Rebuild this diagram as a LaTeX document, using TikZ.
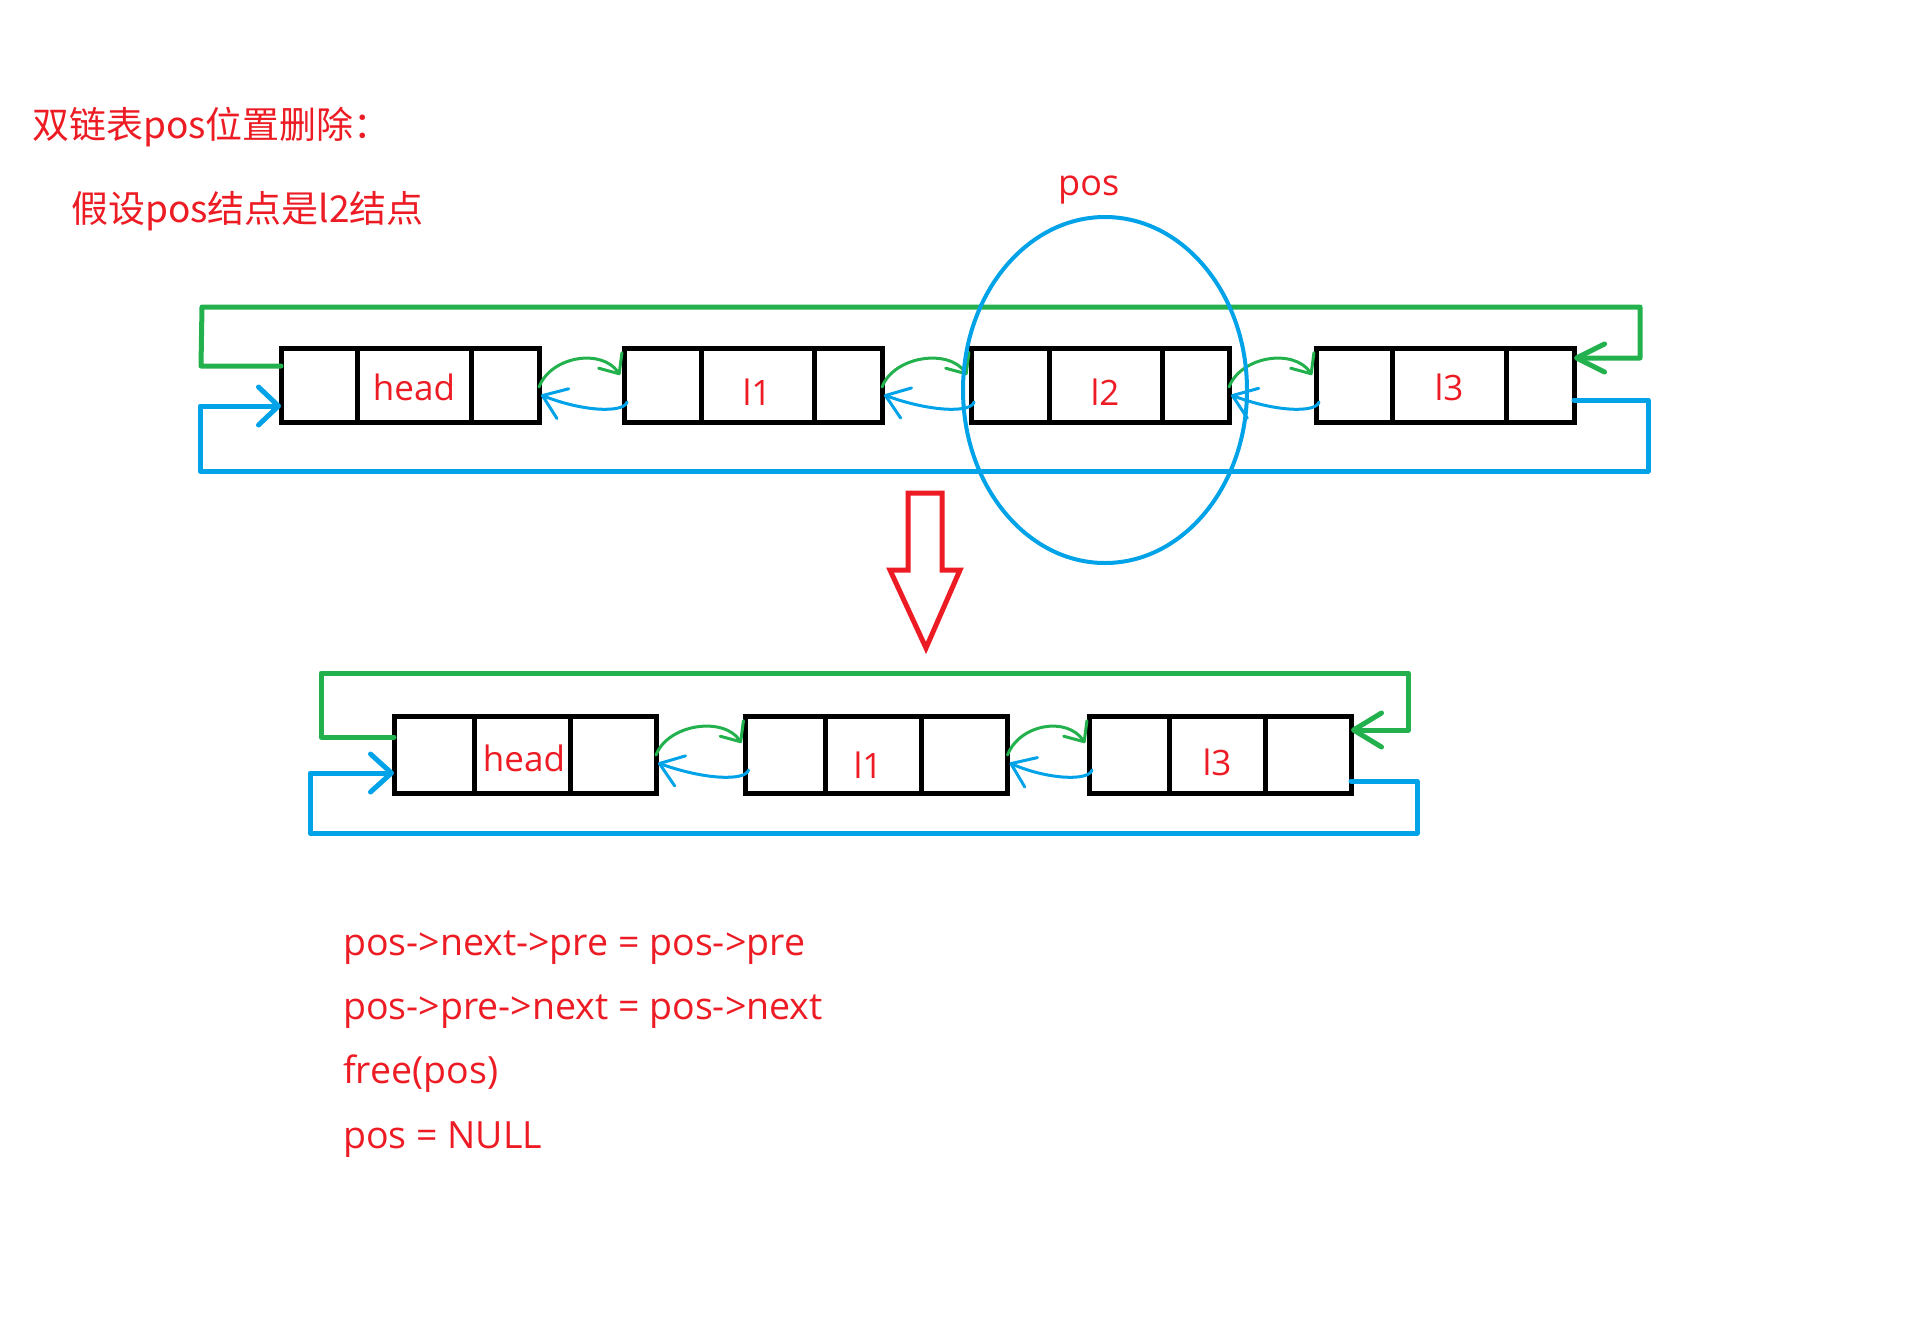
\documentclass[tikz,border=0pt]{standalone}
\usepackage{fontspec}
\setmainfont{Open Sans}
\newfontfamily\cjk{Noto Sans CJK SC}
\usetikzlibrary{arrows.meta,calc,shapes.geometric}
\definecolor{pred}{RGB}{237,28,36}
\definecolor{pgreen}{RGB}{34,177,76}
\definecolor{pblue}{RGB}{0,162,232}
\begin{document}
\begin{tikzpicture}[x=1pt,y=-1pt,
  toprowbox/.style={draw, line width=5pt, minimum width=258pt, minimum height=74pt, inner sep=0pt, outer sep=0pt},
  botrowbox/.style={draw, line width=5pt, minimum width=262pt, minimum height=77pt, inner sep=0pt, outer sep=0pt},
  divider/.style={line width=5pt},
  lbl/.style={text=pred, font=\fontsize{35pt}{40pt}\selectfont, anchor=base, inner sep=0pt},
  poslabel/.style={text=pred, font=\fontsize{36pt}{40pt}\selectfont, anchor=base west, inner sep=0pt},
  codeline/.style={text=pred, font=\fontsize{37.5pt}{42pt}\selectfont, anchor=base west, inner sep=0pt},
  cjkline/.style={text=pred, font=\cjk\fontsize{37pt}{42pt}\selectfont, anchor=base west, inner sep=0pt},
  bigloopg/.style={draw=pgreen, line width=5pt, line join=round, line cap=round},
  bigloopb/.style={draw=pblue, line width=5pt, line join=round, line cap=round},
  smallg/.style={draw=pgreen, line width=3pt, line cap=round, -{Straight Barb[length=16pt,width=28pt,round]}},
  smallb/.style={draw=pblue, line width=3pt, line cap=round, -{Straight Barb[length=22pt,width=32pt,round]}}
]
\fill[white] (0,0) rectangle (1905,1323);
\useasboundingbox (0,0) rectangle (1905,1323);

% titles
\node[cjkline] (title) at (32,138) {双链表pos位置删除：};
\node[cjkline] (sub) at (71,222) {假设pos结点是l2结点};

% top row
\node[toprowbox] (h1) at (410,385) {};
\node[toprowbox] (a1) at (753,385) {};
\node[toprowbox] (b1) at (1100,385) {};
\node[toprowbox] (c1) at (1445,385) {};
% bottom row
\node[botrowbox] (h2) at (525,754.5) {};
\node[botrowbox] (a2) at (876.5,754.5) {};
\node[botrowbox] (c2) at (1220,754.5) {};

\foreach \n/\a/\b in {h1/76/190, a1/77/190, b1/78/191, c1/76/190, h2/80/176, a2/80/176, c2/80/176}{
  \draw[divider] ($(\n.north west)+(\a,-2)$) -- ($(\n.south west)+(\a,3)$);
  \draw[divider] ($(\n.north west)+(\b,-2)$) -- ($(\n.south west)+(\b,3)$);
}

% labels
\node[lbl] (th1) at (414,400) {head};
\node[lbl] (ta1) at (757,405) {l1};
\node[lbl] (tb1) at (1105,405) {l2};
\node[lbl] (tc1) at (1449,400) {l3};
\node[lbl] (th2) at (524,771) {head};
\node[lbl] (ta2) at (868,778) {l1};
\node[lbl] (tc2) at (1217,775) {l3};

% small links between neighbours
\foreach \A/\B in {h1/a1, a1/b1, b1/c1, h2/a2, a2/c2}{
  \draw[smallg] ($(\A.north east)+(0,39)$) .. controls ($(\A.north east)+(12,8)$) and ($(\B.north west)+(-22,0)$) .. ($(\B.north west)+(-4,27)$);
  \draw[smallb] ($(\B.north west)+(3,54)$) .. controls ($(\B.north west)+(0,65)$) and ($(\B.north west)+(-40,64)$) .. ($(\A.north east)+(2,47)$);
}

% big loops top
\draw[bigloopg, -{Straight Barb[length=28pt,width=28pt,round]}]
  ($(h1.north west)+(0,18)$) -- ++(-80,0) -- (202,307) -- (1640,307) -- (1640,358) -- ($(c1.north east)+(0,10)$);
\draw[bigloopb, -{Straight Barb[length=20pt,width=38pt,round]}]
  ($(c1.north east)+(0,52)$) -- (1648,400) -- (1648,471) -- (200,471) -- (200,406) -- ($(h1.north west)+(0,58)$);
% big loops bottom
\draw[bigloopg, -{Straight Barb[length=28pt,width=34pt,round]}]
  ($(h2.north west)+(0,21)$) -- (321,737) -- (321,673) -- (1408,673) -- (1408,730) -- ($(c2.north east)+(0,14)$);
\draw[bigloopb, -{Straight Barb[length=21pt,width=38pt,round]}]
  ($(c2.north east)+(0,65)$) -- (1417,781) -- (1417,833) -- (310,833) -- (310,773) -- ($(h2.north west)+(0,57)$);

% pos ellipse
\node[ellipse, draw=pblue, line width=4pt, minimum width=284pt, minimum height=346pt, inner sep=0pt] (posring) at (1105,390) {};
\node[poslabel] (poslbl) at (1058,195) {pos};

% down arrow
\draw[draw=pred, fill=white, line width=5pt, line join=miter]
  (908,493) -- (942,493) -- (942,570) -- (960,570) -- (926,648) -- (890,570) -- (908,570) -- cycle;

% code
\node[codeline] (c1l) at (343,955) {pos->next->pre = pos->pre};
\node[codeline] (c2l) at (343,1019) {pos->pre->next = pos->next};
\node[codeline] (c3l) at (343,1083) {free(pos)};
\node[codeline] (c4l) at (343,1148) {pos = NULL};
\end{tikzpicture}
\end{document}
